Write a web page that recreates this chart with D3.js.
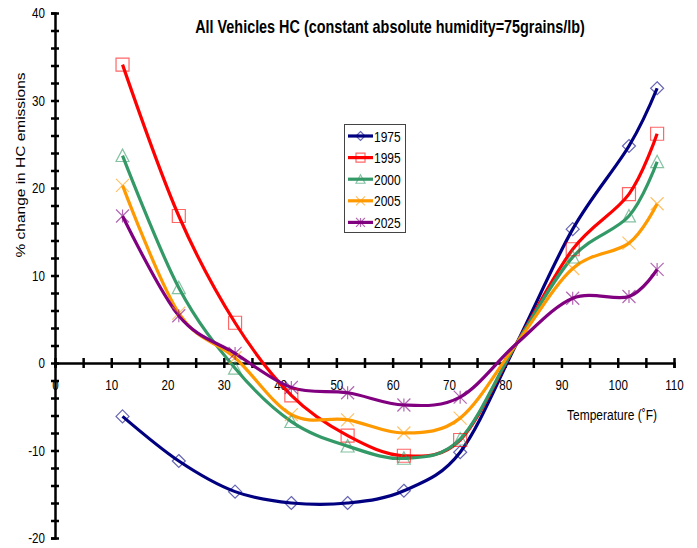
<!DOCTYPE html>
<html>
<head>
<meta charset="utf-8">
<script src="https://d3js.org/d3.v7.min.js"></script>
<style>
  body { margin: 0; background: #fff; }
  #chart text { font-family: "Liberation Sans", Arial, sans-serif; fill: #000; }
  .axis path, .axis line { stroke: #000; stroke-width: 2.5px; }
  .axis text { font-size: 14.5px; }
</style>
</head>
<body>
<div id="chart"></div>
<script>
// temperatures (F) where the curves were sampled
var temps = [12, 22, 32, 42, 52, 62, 72, 82, 92, 102, 107];
// marker shown at each sample? (the 82F crossing point has none)
var showMarker = [1, 1, 1, 1, 1, 1, 1, 0, 1, 1, 1];

var years = ["1975", "1995", "2000", "2005", "2025"];
var v1975 = [-6.1, -11.2, -14.7, -16.0, -16.0, -14.6, -10.2, 2.2, 15.3, 24.8, 31.4];
var v1995 = [34.1, 16.8, 4.6, -3.7, -8.3, -10.6, -8.8, 2.2, 13.0, 19.3, 26.2];
var v2000 = [23.7, 8.6, -0.6, -6.7, -9.5, -10.9, -8.7, 2.2, 12.1, 16.8, 23.0];
var v2005 = [20.3, 5.7, 0.6, -5.9, -6.5, -8.0, -6.3, 2.2, 10.8, 13.7, 18.2];
var v2025 = [16.8, 5.4, 1.1, -2.8, -3.4, -4.8, -3.9, 2.2, 7.4, 7.6, 10.7];
var seriesValues = [v1975, v1995, v2000, v2005, v2025];

var colors = ["#000080", "#ff0000", "#339966", "#ff9900", "#800080"];
var markers = ["diamond", "square", "triangle", "x", "star"];

var yTicks = d3.range(-20, 41, 2);
var xTicks = d3.range(0, 111, 5);

var W = 697, H = 548;
var SX = 0.8; // text in the original is squeezed horizontally
var x = d3.scaleLinear().domain([0, 110]).range([55, 674]);
var y = d3.scaleLinear().domain([-20, 40]).range([538, 13]);

var svg = d3.select("#chart").append("svg")
    .attr("width", W).attr("height", H);

// custom Excel-like marker shapes
function markerPath(type, s) {
    var h = s / 2;
    switch (type) {
        case "diamond": return "M0," + (-h) + "L" + h + ",0L0," + h + "L" + (-h) + ",0Z";
        case "square": return "M" + (-h) + "," + (-h) + "H" + h + "V" + h + "H" + (-h) + "Z";
        case "triangle": return "M0," + (-h) + "L" + h + "," + (h * 0.9) + "L" + (-h) + "," + (h * 0.9) + "Z";
        case "x": return "M" + (-h) + "," + (-h) + "L" + h + "," + h + "M" + h + "," + (-h) + "L" + (-h) + "," + h;
        case "star": return "M" + (-h) + "," + (-h) + "L" + h + "," + h + "M" + h + "," + (-h) + "L" + (-h) + "," + h +
            "M0," + (-h) + "V" + h;
    }
}

function addText(px, py, str, size, weight, anchor) {
    return svg.append("text")
        .attr("transform", "translate(" + px + "," + py + ") scale(" + SX + ",1)")
        .attr("text-anchor", anchor || "middle")
        .attr("font-size", size + "px")
        .attr("font-weight", weight || "normal")
        .text(str);
}

// y axis: ticks crossing both sides
var yAxisL = d3.axisLeft(y).tickValues(yTicks).tickSize(4).tickPadding(8.5)
    .tickFormat(function(d) { return d % 10 === 0 ? d : ""; });
var yAxisR = d3.axisRight(y).tickValues(yTicks).tickSize(4).tickFormat("");
svg.append("g").attr("class", "axis").attr("transform", "translate(" + x(0) + ",0)").call(yAxisL)
    .selectAll("text").attr("transform", "scale(" + SX + ",1)");
svg.append("g").attr("class", "axis").attr("transform", "translate(" + x(0) + ",0)").call(yAxisR)
    .select(".domain").remove();

// x axis at y = 0
var xAxisB = d3.axisBottom(x).tickValues(xTicks).tickSize(5).tickPadding(12)
    .tickFormat(function(d) { return d % 10 === 0 ? d : ""; });
var xAxisT = d3.axisTop(x).tickValues(xTicks).tickSize(5).tickFormat("");
svg.append("g").attr("class", "axis").attr("transform", "translate(0," + y(0) + ")").call(xAxisB)
    .selectAll("text").attr("transform", "scale(" + SX + ",1)");
svg.append("g").attr("class", "axis").attr("transform", "translate(0," + y(0) + ")").call(xAxisT)
    .select(".domain").remove();
svg.selectAll(".axis .domain").attr("stroke-width", 3);

// lines
var line = d3.line()
    .x(function(d) { return x(d[0]); })
    .y(function(d) { return y(d[1]); })
    .curve(d3.curveCatmullRom.alpha(0));

seriesValues.forEach(function(vals, i) {
    var pts = temps.map(function(t, j) { return [t, vals[j]]; });
    svg.append("path")
        .attr("d", line(pts))
        .attr("fill", "none")
        .attr("stroke", colors[i])
        .attr("stroke-width", 3.2);
});

// markers
seriesValues.forEach(function(vals, i) {
    var pts = temps.map(function(t, j) { return [t, vals[j], showMarker[j]]; })
        .filter(function(d) { return d[2]; });
    svg.append("g").selectAll("path")
        .data(pts).enter().append("path")
        .attr("transform", function(d) { return "translate(" + x(d[0]) + "," + y(d[1]) + ")"; })
        .attr("d", markerPath(markers[i], 13))
        .attr("fill", "none")
        .attr("stroke", colors[i])
        .attr("stroke-opacity", 0.6)
        .attr("stroke-width", 1.2);
});

// title
addText(390, 33, "All Vehicles HC (constant absolute humidity=75grains/lb)", 18, "bold");

// axis titles
svg.append("text")
    .attr("transform", "translate(25,165) rotate(-90) scale(1," + SX + ")")
    .attr("text-anchor", "middle")
    .attr("font-size", "15.5px")
    .text("% change in HC emissions");

addText(612, 420, "Temperature (\u02DAF)", 15);

// legend
var lg = svg.append("g");
lg.append("rect")
    .attr("x", 344.5).attr("y", 124.5).attr("width", 61).attr("height", 108)
    .attr("fill", "#fff").attr("stroke", "#444").attr("stroke-width", 1);
years.forEach(function(yr, i) {
    var cy = 136 + i * 21.6;
    lg.append("line").attr("x1", 348).attr("x2", 373).attr("y1", cy).attr("y2", cy)
        .attr("stroke", colors[i]).attr("stroke-width", 3.2);
    lg.append("path").attr("transform", "translate(360.5," + cy + ")")
        .attr("d", markerPath(markers[i], 9))
        .attr("fill", "none").attr("stroke", colors[i])
        .attr("stroke-opacity", 0.6).attr("stroke-width", 1.2);
    lg.append("text")
        .attr("transform", "translate(374," + (cy + 5.5) + ") scale(" + SX + ",1)")
        .attr("font-size", "15px")
        .text(yr);
});
</script>
</body>
</html>
